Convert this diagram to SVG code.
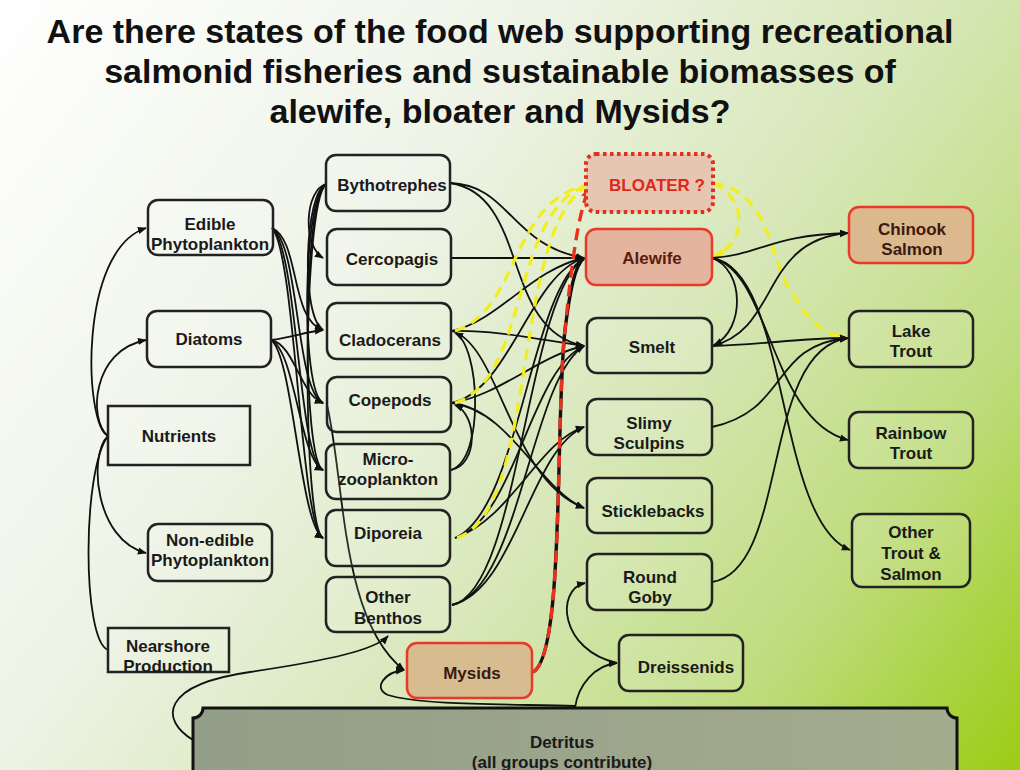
<svg xmlns="http://www.w3.org/2000/svg" width="1020" height="770" viewBox="0 0 1020 770">
<defs>
<linearGradient id="bg" gradientUnits="userSpaceOnUse" x1="0" y1="0" x2="1020" y2="770">
<stop offset="0" stop-color="#ffffff"/>
<stop offset="0.35" stop-color="#eef3e6"/>
<stop offset="0.6" stop-color="#d6e7b6"/>
<stop offset="0.8" stop-color="#bedc7c"/>
<stop offset="1" stop-color="#9ccc14"/>
</linearGradient>
<linearGradient id="det" x1="0" y1="0" x2="1" y2="0">
<stop offset="0" stop-color="#939e88"/>
<stop offset="1" stop-color="#a4ac8e"/>
</linearGradient>
<marker id="ah" viewBox="0 0 10 10" refX="9" refY="5" markerWidth="9" markerHeight="9" markerUnits="userSpaceOnUse" orient="auto"><path d="M0,1 L10,5 L0,9 z" fill="#111"/></marker>
<marker id="ahy" viewBox="0 0 10 10" refX="9" refY="5" markerWidth="11" markerHeight="11" markerUnits="userSpaceOnUse" orient="auto"><path d="M0,1 L10,5 L0,9 z" fill="#f2ee1e"/></marker>
<marker id="ahr" viewBox="0 0 10 10" refX="9" refY="5" markerWidth="11" markerHeight="11" markerUnits="userSpaceOnUse" orient="auto"><path d="M0,1 L10,5 L0,9 z" fill="#e8321e"/></marker>
</defs>
<style>
.t{font-family:"Liberation Sans",Arial,sans-serif;font-weight:bold;fill:#1a1a1a;text-anchor:middle}
.n{font-size:17px}
.ttl{font-size:34px;fill:#111}
.box{fill:#ffffff;fill-opacity:0.12;stroke:#222;stroke-width:2.5}
.red{stroke:#e8392a;stroke-width:2.5}
.c path{fill:none;stroke:#111;stroke-width:1.8}
.c path.a{marker-end:url(#ah)}
.c path.y{stroke:#f2ee1e;stroke-width:3.2;stroke-dasharray:11 7}
.c path.ya{stroke:#f2ee1e;stroke-width:3.2;stroke-dasharray:11 7;marker-end:url(#ahy)}
.c path.rd{stroke:#e8321e;stroke-width:3.4;stroke-dasharray:12 7;marker-end:url(#ahr)}
.c path.bk{stroke:#111;stroke-width:3.4}
</style>
<rect width="1020" height="770" fill="url(#bg)"/>

<g id="title">
<text class="t ttl" x="500" y="43">Are there states of the food web supporting recreational</text>
<text class="t ttl" x="500" y="83">salmonid fisheries and sustainable biomasses of</text>
<text class="t ttl" x="500" y="123">alewife, bloater and Mysids?</text>
</g>

<g id="detritus">
<path d="M203,708 H947 A10,10 0 0 0 957,718 V790 H193 V718 A10,10 0 0 0 203,708 Z" fill="url(#det)" stroke="#111" stroke-width="3"/>
<text class="t n" x="562" y="748">Detritus</text>
<text class="t n" x="562" y="768">(all groups contribute)</text>
</g>

<g class="c" id="connectors">
<path d="M108,436 C84,425 78,250 146,228" class="a"/>
<path d="M108,436 C88,420 92,350 146,340" class="a"/>
<path d="M108,436 C88,455 95,540 146,553" class="a"/>
<path d="M108,650 C82,640 82,470 108,436"/>
<path d="M272,228 C300,240 290,320 323,330" class="a"/>
<path d="M272,228 C300,245 295,390 323,403" class="a"/>
<path d="M272,228 C298,250 298,460 323,470" class="a"/>
<path d="M272,228 C296,255 300,525 323,538" class="a"/>
<path d="M271,340 C290,338 305,332 323,330" class="a"/>
<path d="M271,340 C295,345 300,395 323,403" class="a"/>
<path d="M271,340 C295,350 300,460 323,470" class="a"/>
<path d="M271,340 C293,355 300,525 323,538" class="a"/>
<path d="M326,184 C305,190 302,245 323,258" class="a"/>
<path d="M326,184 C305,192 300,315 323,330" class="a"/>
<path d="M326,184 C303,195 300,390 323,403" class="a"/>
<path d="M326,184 C302,200 302,460 323,470" class="a"/>
<path d="M326,184 C302,205 302,525 323,538" class="a"/>
<path d="M451,470 C478,465 478,415 455,405" class="a"/>
<path d="M451,470 C485,460 480,345 455,333" class="a"/>
<path d="M450,183 C510,185 510,245 584,258" class="a"/>
<path d="M451,258 L584,258" class="a"/>
<path d="M452,331 C500,320 530,270 584,258" class="a"/>
<path d="M452,403 C510,390 530,275 584,258" class="a"/>
<path d="M455,538 C520,510 530,290 584,258" class="a"/>
<path d="M452,605 C520,590 525,300 584,258" class="a"/>
<path d="M450,183 C530,195 500,330 584,346" class="a"/>
<path d="M452,331 C500,330 540,340 584,346" class="a"/>
<path d="M452,403 C500,395 540,355 584,346" class="a"/>
<path d="M455,538 C515,520 530,370 584,346" class="a"/>
<path d="M452,605 C520,590 530,380 584,346" class="a"/>
<path d="M455,538 C510,520 540,440 584,427" class="a"/>
<path d="M452,605 C515,590 530,450 584,427" class="a"/>
<path d="M452,331 C500,345 510,480 584,508" class="a"/>
<path d="M452,403 C510,410 540,490 584,508" class="a"/>
<path d="M455,331 C520,310 510,200 588,185" class="y"/>
<path d="M455,403 C530,380 510,210 588,185" class="y"/>
<path d="M457,538 C540,510 510,230 588,185" class="y"/>
<path d="M533,672 C565,655 555,420 565,330 C570,290 575,265 584,258" class="bk" marker-end="url(#ah)"/>
<path d="M533,672 C565,655 555,420 565,330 C572,260 578,215 589,188" class="rd"/>
<path d="M713,183 C750,200 745,245 714,256" class="ya"/>
<path d="M713,183 C770,190 770,260 790,290 C805,315 820,335 847,338" class="ya"/>
<path d="M712,258 C760,255 770,235 848,233" class="a"/>
<path d="M712,258 C745,270 745,330 714,345" class="a"/>
<path d="M712,258 C770,270 770,420 848,440" class="a"/>
<path d="M712,258 C790,270 775,520 850,550" class="a"/>
<path d="M712,346 C780,330 760,240 848,233" class="a"/>
<path d="M712,346 C760,345 800,338 848,338" class="a"/>
<path d="M712,427 C790,410 770,345 848,338" class="a"/>
<path d="M712,582 C790,570 760,350 848,338" class="a"/>
<path d="M193,740 C160,720 160,685 250,672 C330,660 375,650 388,636" class="a"/>
<path d="M327,405 C345,480 340,620 404,670" class="a"/>
<path d="M575,706 C500,704 420,705 388,695 C372,688 385,672 404,670" class="a"/>
<path d="M575,708 C578,685 595,665 617,663" class="a"/>
<path d="M617,663 C560,650 555,590 585,583" class="a"/>
</g>

<g id="edible"><rect class="box" x="148" y="200" width="125" height="55" rx="10"/><text class="t n" x="210" y="230">Edible</text><text class="t n" x="210" y="250">Phytoplankton</text></g>
<g id="diatoms"><rect class="box" x="147" y="311" width="124" height="56" rx="10"/><text class="t n" x="209" y="345">Diatoms</text></g>
<g id="nutrients"><rect class="box" x="108" y="406" width="142" height="59"/><text class="t n" x="179" y="442">Nutrients</text></g>
<g id="nonedible"><rect class="box" x="148" y="524" width="124" height="57" rx="10"/><text class="t n" x="210" y="546">Non-edible</text><text class="t n" x="210" y="566">Phytoplankton</text></g>
<g id="nearshore"><rect class="box" x="108" y="628" width="121" height="44"/><text class="t n" x="168" y="652">Nearshore</text><text class="t n" x="168" y="672">Production</text></g>

<g id="bythotrephes"><rect class="box" x="326" y="155" width="124" height="56" rx="10"/><text class="t n" x="392" y="191">Bythotrephes</text></g>
<g id="cercopagis"><rect class="box" x="327" y="229" width="124" height="56" rx="10"/><text class="t n" x="392" y="265">Cercopagis</text></g>
<g id="cladocerans"><rect class="box" x="327" y="303" width="124" height="56" rx="10"/><text class="t n" x="390" y="346">Cladocerans</text></g>
<g id="copepods"><rect class="box" x="327" y="377" width="124" height="55" rx="10"/><text class="t n" x="390" y="406">Copepods</text></g>
<g id="micro"><rect class="box" x="326" y="444" width="124" height="55" rx="10"/><text class="t n" x="388" y="465">Micro-</text><text class="t n" x="388" y="485">zooplankton</text></g>
<g id="diporeia"><rect class="box" x="326" y="510" width="124" height="56" rx="10"/><text class="t n" x="388" y="539">Diporeia</text></g>
<g id="otherbenthos"><rect class="box" x="326" y="577" width="124" height="55" rx="10"/><text class="t n" x="388" y="603">Other</text><text class="t n" x="388" y="624">Benthos</text></g>
<g id="mysids"><rect class="red" x="407" y="643" width="125" height="55" rx="10" fill="#d6bc8e"/><text class="t n" x="472" y="679" style="fill:#3a1a10">Mysids</text></g>

<g id="bloater"><rect x="586" y="154" width="127" height="58" rx="10" fill="#e6c6b2" stroke="#e03020" stroke-width="4" stroke-dasharray="3.5 3.5"/><text class="t n" x="657" y="191" style="fill:#e02818">BLOATER ?</text></g>
<g id="alewife"><rect class="red" x="586" y="229" width="126" height="56" rx="10" fill="#e4b49e"/><text class="t n" x="652" y="264" style="fill:#5a1c10">Alewife</text></g>
<g id="smelt"><rect class="box" x="587" y="318" width="125" height="55" rx="10"/><text class="t n" x="652" y="353">Smelt</text></g>
<g id="slimy"><rect class="box" x="587" y="399" width="125" height="56" rx="10"/><text class="t n" x="649" y="429">Slimy</text><text class="t n" x="649" y="449">Sculpins</text></g>
<g id="sticklebacks"><rect class="box" x="587" y="478" width="125" height="55" rx="10"/><text class="t n" x="653" y="517">Sticklebacks</text></g>
<g id="roundgoby"><rect class="box" x="587" y="554" width="125" height="56" rx="10"/><text class="t n" x="650" y="583">Round</text><text class="t n" x="650" y="603">Goby</text></g>
<g id="dreissenids"><rect class="box" x="619" y="635" width="124" height="56" rx="10"/><text class="t n" x="686" y="673">Dreissenids</text></g>

<g id="chinook"><rect class="red" x="849" y="207" width="124" height="56" rx="10" fill="#dcb88e"/><text class="t n" x="912" y="235" style="fill:#3a1a10">Chinook</text><text class="t n" x="912" y="255" style="fill:#3a1a10">Salmon</text></g>
<g id="laketrout"><rect class="box" x="849" y="311" width="124" height="56" rx="10"/><text class="t n" x="911" y="337">Lake</text><text class="t n" x="911" y="357">Trout</text></g>
<g id="rainbow"><rect class="box" x="849" y="412" width="124" height="56" rx="10"/><text class="t n" x="911" y="439">Rainbow</text><text class="t n" x="911" y="459">Trout</text></g>
<g id="othertrout"><rect class="box" x="852" y="514" width="118" height="73" rx="10"/><text class="t n" x="911" y="538">Other</text><text class="t n" x="911" y="559">Trout &amp;</text><text class="t n" x="911" y="580">Salmon</text></g>
</svg>
